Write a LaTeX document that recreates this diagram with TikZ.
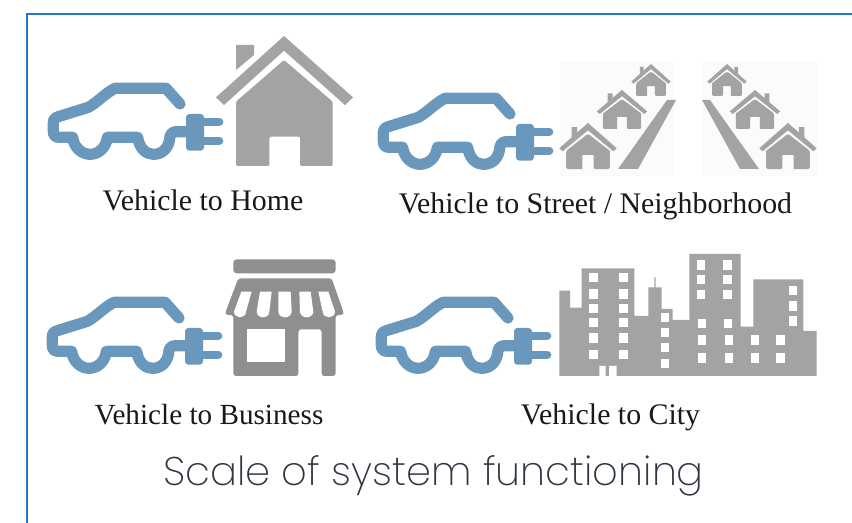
\documentclass[tikz,border=0pt]{standalone}
\usepackage{fontspec}
\setmainfont{Liberation Serif}
\newfontfamily\titlefont{Poppins ExtraLight}
\definecolor{carblue}{HTML}{6A98BC}
\definecolor{bgrey}{HTML}{A3A3A3}
\definecolor{sgrey}{HTML}{8F8F8F}
\definecolor{frameblue}{HTML}{2277C9}
\definecolor{titlegrey}{HTML}{2F3640}
\tikzset{
  zoomed/.style={x=.25pt,y=-.25pt},
  lab/.style={font=\fontsize{22.4}{26}\selectfont,text=black!90,inner sep=0pt,anchor=base},
  car/.pic={
    \begin{scope}[zoomed]
      \draw[carblue,line width=8.4pt,line join=round,line cap=round]
        (540,312) -- (498,265) -- (345,265) .. controls (315,280) and (295,305) .. (265,322)
        -- (175,350) .. controls (165,353) and (160,358) .. (160,368) -- (160,395)
        .. controls (160,407) and (167,412) .. (178,412) -- (218,412)
        .. controls (222,445) and (248,463) .. (270,463) .. controls (294,463) and (318,445) .. (322,412)
        -- (413,412) .. controls (418,445) and (438,463) .. (460,463) .. controls (487,463) and (507,445) .. (510,410)
        .. controls (512,400) and (520,395) .. (530,395) -- (565,395);
      \fill[carblue,rounded corners=2.5pt] (558,342) rectangle (612,452);
      \draw[carblue,line width=6pt,line cap=round] (605,365) -- (658,365) (605,422) -- (658,422);
    \end{scope}
  },
  house/.pic={
    \begin{scope}[zoomed]
      \fill[bgrey] (0,0) -- (207,184) -- (183,207) -- (0,44) -- (-180,207) -- (-204,184) -- cycle;
      \fill[bgrey] (-144,27) -- (-90,27) -- (-90,57) -- (-144,102) -- cycle;
      \fill[bgrey,rounded corners=1pt] (0,72) -- (146,197) -- (146,390) -- (48,390) -- (48,302) -- (-44,302) -- (-44,390) -- (-144,390) -- (-144,197) -- cycle;
    \end{scope}
  },
  smallhouse/.pic={
    \begin{scope}[zoomed]
      \fill[bgrey] (0,0) -- (207,214) -- (183,240) -- (0,62) -- (-183,240) -- (-207,214) -- cycle;
      \fill[bgrey] (-118,35) -- (-78,35) -- (-78,85) -- (-118,125) -- cycle;
      \fill[bgrey] (0,91) -- (157,235) -- (157,375) [rounded corners=1pt] -- (157,390) -- (40,390) [sharp corners] -- (40,270) -- (-40,270) -- (-40,390) [rounded corners=1pt] -- (-157,390) -- (-157,235) -- cycle;
    \end{scope}
  }
}
\begin{document}
\begin{tikzpicture}[x=.75pt,y=-.75pt]
\useasboundingbox (0,0) rectangle (852,523);
\fill[white] (0,0) rectangle (852,523);
\draw[frameblue,line width=1.5pt] (27,523) -- (27,14) -- (852,14);

% faint backgrounds of the street pictures
\fill[black!1.5] (560,62) rectangle (675,176);
\fill[black!1.5] (702,62) rectangle (817,176);

% cars
\pic at (0,0) {car};
\pic at (330,10) {car};
\pic at (-1,214) {car};
\pic at (328,214) {car};

% home
\pic at (284,36) {house};

% street
\pic[xscale=.416,yscale=.354] at (588,123) {smallhouse};
\pic[xscale=.365,yscale=.30] at (622,90) {smallhouse};
\pic[xscale=.285,yscale=.246] at (651,64) {smallhouse};
\pic[xscale=-.416,yscale=.354] at (788,123) {smallhouse};
\pic[xscale=-.365,yscale=.30] at (755,90) {smallhouse};
\pic[xscale=-.285,yscale=.246] at (727,64) {smallhouse};
\fill[bgrey] (667,100) -- (676,100) -- (638,169) -- (618,169) -- cycle;
\fill[bgrey] (702,100) -- (710,100) -- (759,169) -- (740,169) -- cycle;

% store
\begin{scope}[shift={(30,240)},zoomed]
  \fill[sgrey,rounded corners=2.5pt] (610,58) rectangle (917,100);
  \fill[sgrey,rounded corners=2pt] (625,115) -- (905,115) -- (940,215) -- (940,225) -- (917,225) -- (917,408) -- (875,408) -- (875,268) -- (805,268) -- (805,408) -- (610,408) -- (610,225) -- (587,225) -- (587,215) -- cycle;
  \fill[white] (652,268) rectangle (765,365);
  \foreach \a/\b/\c/\d in {634/665/612/648,690/725/680/718,745/782/745/785,808/842/810/850,865/895/878/915}{
    \fill[white] (\a,155) -- (\b,155) -- (\d,215) .. controls (\d,225) and ({\c+(\d-\c)*0.75},232) .. ({(\c+\d)/2},232) .. controls ({\c+(\d-\c)*0.25},232) and (\c,225) .. (\c,215) -- cycle;
  }
\end{scope}

% city
\begin{scope}[shift={(370,240)},zoomed]
  \fill[bgrey] (568,408) -- (568,152) -- (600,152) -- (600,203) -- (635,203) -- (635,85) -- (793,85) -- (793,228) -- (835,228) -- (835,142) -- (853,142) -- (853,112) -- (857,112) -- (857,142) -- (875,142) -- (875,207) -- (908,207) -- (908,240) -- (958,240) -- (958,42) -- (1112,42) -- (1112,260) -- (1150,260) -- (1150,118) -- (1300,118) -- (1300,273) -- (1340,273) -- (1340,408) -- cycle;
  \fill[white] (688,378) rectangle (707,408) (717,378) rectangle (740,408);
  \foreach \cx/\cy in {670/113,670/162,670/206,670/248,670/294,670/343,760/113,760/162,760/206,760/248,760/294,760/343,
    885/232,885/277,885/323,885/370,
    993/75,993/118,993/163,1072/75,1072/118,1072/163,
    995/250,995/300,995/354,1074/250,1076/300,1076/354,
    1155/300,1155/354,1231/300,1231/354,
    1268/152,1268/198,1268/243}{
    \fill[white] ({\cx-12.5},{\cy-14}) rectangle ({\cx+12.5},{\cy+14});
  }
\end{scope}

% labels
\node[lab] (home) at (203,210.5) {Vehicle to Home};
\node[lab] (street) at (595.5,213.5) {Vehicle to Street / Neighborhood};
\node[lab,font=\fontsize{21.9}{26}\selectfont] (business) at (209,424) {Vehicle to Business};
\node[lab] (city) at (610.5,424) {Vehicle to City};
\node[inner sep=0pt,anchor=base,text=titlegrey,font=\titlefont\fontsize{30}{36}\selectfont] (title) at (433.5,485) {Scale of system functioning};
\end{tikzpicture}
\end{document}
